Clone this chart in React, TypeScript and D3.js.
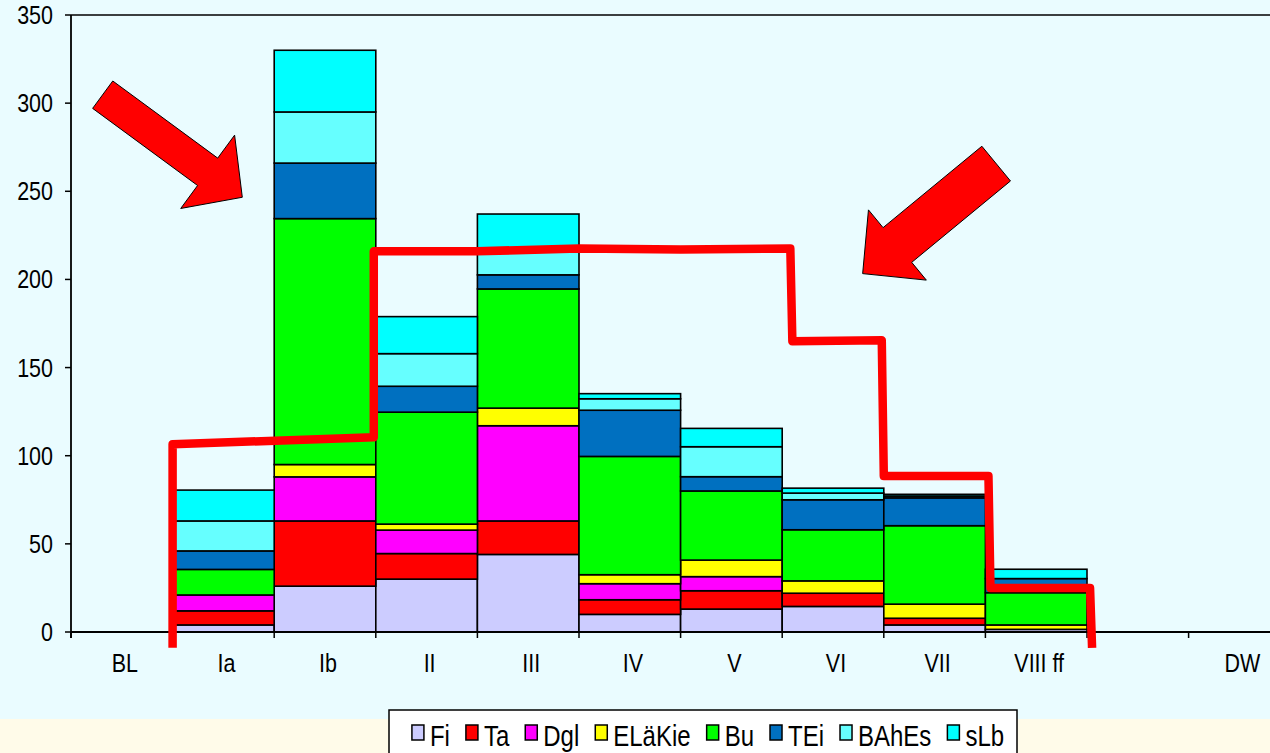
import React, { useMemo } from "react";
import * as d3 from "d3";

// categories along the x axis (one empty slot before DW)
const categories = ["BL", "Ia", "Ib", "II", "III", "IV", "V", "VI", "VII", "VIII ff", "", "DW"];

const seriesNames = ["Fi", "Ta", "Dgl", "ELäKie", "Bu", "TEi", "BAhEs", "sLb"];
const seriesColors = ["#ccccff", "#ff0000", "#ff00ff", "#ffff00", "#00ff00", "#0070c0", "#66ffff", "#00ffff"];

const fi = [0, 4, 26, 30, 44, 10, 13, 14.5, 4, 1.5, 0, 0];
const ta = [0, 8, 37, 14.5, 19, 8.3, 10.4, 7.5, 3.8, 0, 0, 0];
const dgl = [0, 9, 25, 13.3, 54, 9.1, 8, 0, 0, 0, 0, 0];
const elaekie = [0, 0, 7, 3.4, 10, 5.1, 9.4, 7, 8, 2.5, 0, 0];
const bu = [0, 14.5, 139.5, 63.5, 67.6, 67.1, 39.2, 29, 44.5, 18.3, 0, 0];
const tei = [0, 10.5, 31.5, 14.7, 8, 26.2, 8.1, 17, 15.8, 8, 0, 0];
const bahes = [0, 17, 29, 18.5, 13.5, 6.5, 17, 3.8, 1, 0, 0, 0];
const slb = [0, 17.5, 35, 21, 21, 2.9, 10.4, 2.8, 1, 5.3, 0, 0];

const yTicks = [0, 50, 100, 150, 200, 250, 300, 350];

// hand drawn red step line, x in category units (0 = left edge of BL), y in data units
const redLine: [number, number][] = [
  [1.0, -9], [1.0, 106.5], [2.98, 110.5], [2.98, 216], [4.0, 216], [5.0, 217.5],
  [6.0, 217], [7.08, 217.5], [7.1, 165], [7.98, 165.5], [8.0, 88.5], [9.03, 88.5],
  [9.05, 25], [10.03, 25], [10.05, -9],
];

// red arrows: tail and tip in category units / data units
const arrows = [
  { tail: [0.312, 304.8], tip: [1.686, 246.6], shaft: 34, head: 91, headLen: 43 },
  { tail: [9.106, 265.7], tip: [7.792, 203.3], shaft: 45, head: 91, headLen: 45 },
];

const W = 1270;
const H = 753;
const FONT = "'Liberation Sans', Arial, sans-serif";
const SQUISH = 0.86;
const LEG_SQUISH = 0.8;

const App: React.FC = () => {
  const left = 71;
  const catW = 101.6;
  const top = 15;
  const bottom = 632;

  const x = d3.scaleBand<string>().domain(categories).range([left, left + catW * categories.length]).padding(0);
  const xc = d3.scaleLinear().domain([0, categories.length]).range([left, left + catW * categories.length]);
  const y = d3.scaleLinear().domain([0, 350]).range([bottom, top]);

  const rows = categories.map((c, i) => ({
    cat: c,
    Fi: fi[i], Ta: ta[i], Dgl: dgl[i], "ELäKie": elaekie[i], Bu: bu[i], TEi: tei[i], BAhEs: bahes[i], sLb: slb[i],
  }));
  const stacked = d3.stack<any>().keys(seriesNames)(rows);

  const line = d3.line<[number, number]>().x(d => xc(d[0])).y(d => y(d[1]));

  const arrowPath = (a: typeof arrows[number]) => {
    const T = [xc(a.tail[0]), y(a.tail[1])];
    const P = [xc(a.tip[0]), y(a.tip[1])];
    const len = Math.hypot(P[0] - T[0], P[1] - T[1]);
    const u = [(P[0] - T[0]) / len, (P[1] - T[1]) / len];
    const n = [-u[1], u[0]];
    const B = [P[0] - u[0] * a.headLen, P[1] - u[1] * a.headLen];
    const pt = (o: number[], k: number) => [o[0] + n[0] * k, o[1] + n[1] * k];
    const pts = [
      pt(T, a.shaft / 2), pt(B, a.shaft / 2), pt(B, a.head / 2), P,
      pt(B, -a.head / 2), pt(B, -a.shaft / 2), pt(T, -a.shaft / 2),
    ];
    return "M" + pts.map(p => p.join(",")).join("L") + "Z";
  };

  // legend layout from measured text widths
  const legend = useMemo(() => {
    const canvas = document.createElement("canvas");
    const ctx = canvas.getContext("2d")!;
    ctx.font = `30px ${FONT}`;
    const sq = 12, gapSq = 6, gapItem = 16;
    const widths = seriesNames.map(s => ctx.measureText(s).width * LEG_SQUISH);
    const total = widths.reduce((a, b) => a + b, 0) + seriesNames.length * (sq + gapSq) + (seriesNames.length - 1) * gapItem;
    let cx = 708 - total / 2;
    return seriesNames.map((s, i) => {
      const item = { name: s, color: seriesColors[i], sx: cx, tx: cx + sq + gapSq };
      cx += sq + gapSq + widths[i] + gapItem;
      return item;
    });
  }, []);

  return (
    <div style={{ position: "absolute", left: 0, top: 0, width: W, height: H, overflow: "hidden" }}>
      <svg width={W} height={H} style={{ display: "block", fontFamily: FONT }}>
        <rect x={0} y={0} width={W} height={H} fill="#eafcff" />
        <rect x={0} y={719} width={W} height={H - 719} fill="#fffbe9" />

        {/* plot frame top */}
        <line x1={left} x2={left + catW * categories.length} y1={top} y2={top} stroke="#000" strokeWidth={1.5} />

        {/* bars */}
        {stacked.map((layer, si) => (
          <g key={layer.key} fill={seriesColors[si]} stroke="#000" strokeWidth={1.6}>
            {layer.map((d, i) =>
              d[1] - d[0] > 0 ? (
                <rect key={i} x={x(categories[i])!} width={x.bandwidth()} y={y(d[1])} height={y(d[0]) - y(d[1])} />
              ) : null
            )}
          </g>
        ))}

        {/* y axis */}
        <line x1={left} x2={left} y1={top} y2={bottom + 6} stroke="#000" strokeWidth={1.8} />
        {yTicks.map(t => (
          <g key={t}>
            <line x1={left - 6} x2={left} y1={y(t)} y2={y(t)} stroke="#000" strokeWidth={1.5} />
            <text transform={`translate(${53},${y(t) + 9}) scale(${SQUISH},1)`} textAnchor="end" fontSize={25} fill="#000">
              {t}
            </text>
          </g>
        ))}

        {/* x axis */}
        <line x1={left} x2={left + catW * categories.length} y1={bottom} y2={bottom} stroke="#000" strokeWidth={1.8} />
        {categories.map((c, i) => (
          <g key={i}>
            <line x1={x(c)!} x2={x(c)!} y1={bottom} y2={bottom + 6} stroke="#000" strokeWidth={1.5} />
            <text transform={`translate(${x(c)! + x.bandwidth() / 2 + 3},${672}) scale(${SQUISH},1)`} textAnchor="middle" fontSize={25} fill="#000">
              {c}
            </text>
          </g>
        ))}

        {/* red step annotation */}
        <path d={line(redLine)!} fill="none" stroke="#ff0000" strokeWidth={8.5} strokeLinejoin="round" />

        {/* arrows */}
        {arrows.map((a, i) => (
          <path key={i} d={arrowPath(a)} fill="#ff0000" stroke="#000" strokeWidth={1} strokeLinejoin="miter" />
        ))}

        {/* legend */}
        <rect x={389} y={710} width={628} height={60} fill="#fff" stroke="#000" strokeWidth={1.5} />
        {legend.map(l => (
          <g key={l.name}>
            <rect x={l.sx} y={725} width={12} height={15} fill={l.color} stroke="#000" strokeWidth={1.5} />
            <text transform={`translate(${l.tx},${746}) scale(${LEG_SQUISH},1)`} fontSize={30} fill="#000">
              {l.name}
            </text>
          </g>
        ))}
      </svg>
    </div>
  );
};

export default App;
